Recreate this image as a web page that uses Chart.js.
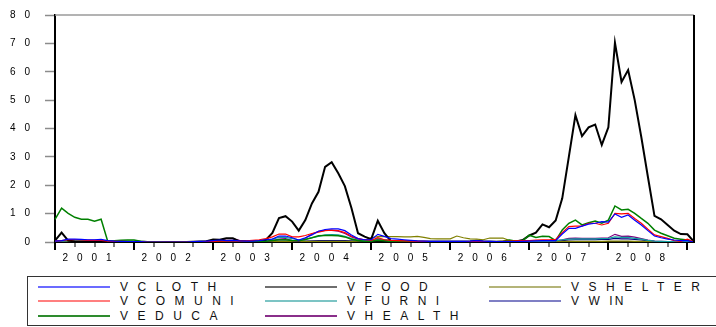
<!DOCTYPE html>
<html>
<head>
<meta charset="utf-8">
<script src="https://cdn.jsdelivr.net/npm/chart.js@4.4.1/dist/chart.umd.min.js"></script>
<style>
  html, body { margin: 0; padding: 0; background: #fff; }
  body { width: 716px; height: 327px; position: relative; overflow: hidden; font-family: "Liberation Sans", Arial, sans-serif; }
  #chart { position: absolute; left: 0; top: 0; }
  #legend { position: absolute; left: 27px; top: 276px; width: 720px; height: 48px; border: 1px solid #333; }
  .key { position: absolute; height: 2px; width: 72px; }
  .name { position: absolute; font-size: 12px; letter-spacing: 9.5px; line-height: 14px; color: #111; white-space: nowrap; }
</style>
</head>
<body>
<canvas id="chart" width="716" height="270"></canvas>
<div id="legend"></div>
<script>
// monthly, 2001M01 .. 2009M02
const years = ["2001", "2002", "2003", "2004", "2005", "2006", "2007", "2008", "2009"];
const yTicks = [0, 10, 20, 30, 40, 50, 60, 70, 80];

const vcloth = [
  0.3, 0.5, 1.0, 1.0, 0.9, 0.8, 0.8, 0.9, 0.5, 0.3, 0.2, 0.1,
  0.1, 0.1, 0.0, 0.0, 0.0, 0.0, 0.0, 0.0, 0.0, 0.1, 0.2, 0.3,
  0.5, 0.7, 0.5, 0.6, 0.4, 0.3, 0.3, 0.5, 0.8, 1.0, 2.1, 2.1,
  1.5, 0.7, 1.5, 2.5, 3.8, 4.4, 4.6, 4.6, 4.0, 2.5, 1.2, 0.8,
  0.8, 2.7, 2.0, 1.2, 1.0, 0.8, 0.6, 0.4, 0.3, 0.2, 0.2, 0.2,
  0.2, 0.2, 0.2, 0.3, 0.5, 0.3, 0.2, 0.1, 0.1, 0.1, 0.1, 0.2,
  0.3, 0.4, 0.5, 0.5, 0.5, 2.8, 4.8, 4.8, 5.6, 6.3, 6.6, 7.2,
  7.0, 9.9, 8.7, 9.5, 7.7, 6.0, 4.0, 2.1, 1.5, 1.0, 0.7, 0.5,
  0.5, 0.0
];
const vcomuni = [
  0.3, 0.5, 0.8, 0.8, 0.7, 0.6, 0.6, 0.6, 0.3, 0.2, 0.2, 0.1,
  0.1, 0.1, 0.0, 0.0, 0.0, 0.0, 0.0, 0.0, 0.0, 0.0, 0.1, 0.1,
  0.2, 0.3, 0.3, 0.3, 0.3, 0.4, 0.6, 0.8, 1.2, 1.8, 2.8, 2.8,
  1.8, 1.8, 2.3, 3.0, 3.5, 4.0, 4.2, 4.0, 3.3, 2.0, 1.2, 0.8,
  0.6, 1.5, 0.8, 0.6, 0.5, 0.4, 0.3, 0.2, 0.2, 0.1, 0.1, 0.1,
  0.1, 0.1, 0.1, 0.1, 0.1, 0.1, 0.1, 0.1, 0.2, 0.3, 0.4, 0.5,
  0.5, 0.7, 0.8, 0.8, 0.9, 3.3, 5.4, 5.6, 5.6, 6.6, 6.6, 6.0,
  6.6, 10.1, 9.9, 10.1, 8.3, 6.6, 4.5, 2.5, 1.9, 1.3, 0.5, 0.2,
  1.0, 0.0
];
const veduca = [
  8.0, 11.9, 10.1, 8.7, 8.0, 8.0, 7.3, 8.0, 0.3, 0.4, 0.6, 0.7,
  0.7, 0.3, 0.1, 0.1, 0.1, 0.0, 0.0, 0.0, 0.0, 0.0, 0.0, 0.0,
  0.1, 0.1, 0.1, 0.1, 0.1, 0.1, 0.2, 0.2, 0.3, 0.5, 0.8, 0.8,
  0.5, 0.4, 0.9, 1.5, 2.2, 2.3, 2.3, 2.2, 1.8, 1.0, 0.5, 0.3,
  0.3, 0.6, 0.4, 0.2, 0.1, 0.1, 0.1, 0.1, 0.1, 0.1, 0.1, 0.1,
  0.1, 0.1, 0.1, 0.1, 0.1, 0.1, 0.1, 0.1, 0.3, 0.7, 0.3, 0.5,
  2.4, 1.6, 2.0, 1.9, 0.5, 4.2, 6.6, 7.7, 6.0, 6.8, 7.4, 6.6,
  7.7, 12.7, 11.3, 11.5, 10.1, 8.3, 6.6, 4.2, 3.1, 2.2, 1.3, 1.0,
  0.7, 0.0
];
const vfood = [
  0.5, 3.3, 0.5, 0.2, 0.1, 0.1, 0.1, 0.1, 0.1, 0.1, 0.1, 0.1,
  0.1, 0.1, 0.0, 0.0, 0.0, 0.0, 0.0, 0.0, 0.0, 0.1, 0.2, 0.3,
  0.9, 0.8, 1.3, 1.3, 0.2, 0.2, 0.2, 0.3, 0.7, 3.2, 8.4, 9.1,
  7.2, 4.0, 7.7, 13.6, 17.7, 26.5, 28.1, 24.2, 19.7, 12.0, 3.1, 1.9,
  1.0, 7.5, 3.1, 0.3, 0.2, 0.1, 0.1, 0.1, 0.1, 0.1, 0.1, 0.1,
  0.1, 0.1, 0.1, 0.1, 0.1, 0.1, 0.1, 0.1, 0.1, 0.2, 0.2, 0.7,
  2.3, 3.3, 6.2, 5.2, 7.6, 15.4, 30.0, 44.7, 37.3, 40.4, 41.4, 34.2,
  40.4, 70.2, 56.4, 60.6, 50.0, 37.0, 23.0, 9.2, 8.0, 6.0, 4.0, 2.8,
  2.7, 0.1
];
const vfurni = [
  0.2, 0.3, 0.5, 0.5, 0.5, 0.5, 0.4, 0.4, 0.3, 0.3, 0.2, 0.2,
  0.1, 0.1, 0.0, 0.0, 0.0, 0.0, 0.0, 0.0, 0.0, 0.0, 0.1, 0.1,
  0.2, 0.2, 0.3, 0.3, 0.2, 0.2, 0.2, 0.4, 0.6, 1.0, 1.6, 1.6,
  1.2, 0.8, 1.0, 1.5, 2.0, 2.5, 2.6, 2.5, 2.0, 1.2, 0.7, 0.5,
  0.5, 1.2, 0.8, 0.5, 0.3, 0.2, 0.2, 0.2, 0.1, 0.1, 0.1, 0.1,
  0.1, 0.1, 0.1, 0.1, 0.1, 0.1, 0.1, 0.1, 0.1, 0.1, 0.2, 0.2,
  0.2, 0.3, 0.3, 0.3, 0.4, 0.8, 1.0, 1.1, 1.1, 1.1, 1.1, 1.2,
  1.3, 1.8, 1.6, 1.6, 1.3, 1.0, 0.6, 0.3, 0.2, 0.1, 0.1, 0.1,
  0.1, 0.0
];
const vhealth = [
  0.2, 0.4, 0.7, 0.7, 0.6, 0.6, 0.6, 0.6, 0.3, 0.2, 0.1, 0.1,
  0.1, 0.0, 0.0, 0.0, 0.0, 0.0, 0.0, 0.0, 0.0, 0.1, 0.1, 0.2,
  0.5, 0.6, 1.2, 1.2, 0.6, 0.3, 0.2, 0.2, 0.3, 0.5, 1.0, 1.2,
  0.5, 0.2, 1.3, 2.8, 3.8, 4.1, 4.1, 3.8, 3.0, 1.8, 1.0, 0.8,
  0.6, 1.0, 0.8, 0.5, 0.3, 0.2, 0.2, 0.1, 0.1, 0.1, 0.1, 0.1,
  0.1, 0.1, 0.1, 0.1, 0.1, 0.1, 0.1, 0.1, 0.1, 0.1, 0.2, 0.2,
  0.2, 0.3, 0.3, 0.3, 0.4, 0.8, 1.3, 1.4, 1.3, 1.3, 1.3, 1.4,
  1.5, 2.7, 2.0, 2.1, 1.7, 1.2, 0.7, 0.3, 0.2, 0.1, 0.1, 0.1,
  0.1, 0.0
];
const vshelter = [
  0.2, 0.3, 0.3, 0.3, 0.3, 0.3, 0.3, 0.3, 0.2, 0.2, 0.2, 0.2,
  0.1, 0.1, 0.1, 0.1, 0.1, 0.1, 0.1, 0.1, 0.1, 0.1, 0.1, 0.1,
  0.1, 0.1, 0.1, 0.1, 0.1, 0.1, 0.1, 0.1, 0.2, 0.2, 0.2, 0.2,
  0.2, 0.2, 0.2, 0.2, 0.2, 0.2, 0.2, 0.2, 0.2, 0.2, 0.3, 0.6,
  1.5, 1.9, 1.9, 1.9, 1.9, 1.8, 1.8, 2.0, 1.6, 1.2, 1.1, 1.1,
  1.1, 2.1, 1.5, 1.1, 1.0, 0.8, 1.4, 1.4, 1.4, 0.5, 0.4, 0.3,
  0.3, 0.3, 0.3, 0.2, 0.2, 0.2, 0.2, 0.2, 0.2, 0.2, 0.2, 0.2,
  0.3, 0.3, 0.3, 0.3, 0.2, 0.2, 0.2, 0.1, 0.1, 0.1, 0.1, 0.1,
  0.1, 0.0
];
const vwin = [
  0.1, 0.2, 0.3, 0.3, 0.3, 0.3, 0.3, 0.3, 0.2, 0.1, 0.1, 0.1,
  0.1, 0.1, 0.0, 0.0, 0.0, 0.0, 0.0, 0.0, 0.0, 0.0, 0.1, 0.2,
  0.3, 0.3, 0.4, 0.4, 0.3, 0.2, 0.2, 0.2, 0.2, 0.3, 0.3, 0.3,
  0.3, 0.3, 0.3, 0.4, 0.5, 0.5, 0.5, 0.5, 0.5, 0.4, 0.3, 0.3,
  0.4, 0.8, 0.5, 0.4, 0.3, 0.3, 0.3, 0.2, 0.2, 0.2, 0.2, 0.2,
  0.2, 0.2, 0.2, 0.3, 0.6, 0.3, 0.2, 0.1, 0.1, 0.1, 0.1, 0.1,
  0.1, 0.1, 0.2, 0.2, 0.2, 0.5, 0.7, 0.8, 0.8, 0.8, 0.8, 0.9,
  0.9, 1.3, 1.1, 1.1, 0.9, 0.7, 0.4, 0.2, 0.1, 0.1, 0.1, 0.1,
  0.1, 0.0
];

const names = ["VCLOTH", "VCOMUNI", "VEDUCA", "VFOOD", "VFURNI", "VHEALTH", "VSHELTER", "VWIN"];
const series = [vcloth, vcomuni, veduca, vfood, vfurni, vhealth, vshelter, vwin];

// estilos
const lineColors = ["#0000ff", "#ff0000", "#008000", "#000000", "#10a0a0", "#800080", "#808000", "#000080"];
const keyColors = ["#6b6bff", "#ff7f7f", "#2e8b2e", "#6e6e6e", "#7cc4c4", "#8a2f8a", "#b4b478", "#7f7fc4"];
const lineWidths = [1.2, 1.2, 1.5, 2, 1.2, 1.2, 1.2, 1.2];

// rótulos mensais
const months = [];
years.forEach(y => {
  for (let m = 1; m <= 12; m++) months.push(y + "M" + String(m).padStart(2, "0"));
});
months.length = vfood.length;

const axisFont = { family: "'Liberation Sans', Arial, sans-serif", size: 10 };

// moldura, marcas do eixo x e espaçamento das letras
const frame = {
  id: "frame",
  beforeLayout(chart) { chart.ctx.letterSpacing = "9px"; },
  beforeDraw(chart) { chart.ctx.letterSpacing = "9px"; },
  afterDraw(chart) {
    const { ctx, chartArea: a, scales: { x } } = chart;
    ctx.save();
    ctx.strokeStyle = "#9a9a9a";
    ctx.lineWidth = 1.5;
    ctx.beginPath();
    ctx.moveTo(a.left, a.top);
    ctx.lineTo(a.right, a.top);
    ctx.stroke();
    ctx.strokeStyle = "#000";
    ctx.lineWidth = 2;
    ctx.beginPath();
    ctx.moveTo(a.right, a.top);
    ctx.lineTo(a.right, a.bottom);
    ctx.stroke();
    for (let i = 0; i < months.length; i += 3) {
      const px = Math.round(x.getPixelForValue(i));
      const major = i % 12 === 0;
      ctx.lineWidth = major ? 2 : 1;
      ctx.beginPath();
      ctx.moveTo(px, a.bottom);
      ctx.lineTo(px, a.bottom + (major ? 8 : 5));
      ctx.stroke();
    }
    ctx.restore();
  }
};

new Chart(document.getElementById("chart"), {
  type: "line",
  data: {
    labels: months,
    datasets: series.map((d, k) => ({
      label: names[k],
      data: d,
      borderColor: lineColors[k],
      borderWidth: lineWidths[k],
      pointRadius: 0,
      tension: 0,
      fill: false
    }))
  },
  options: {
    responsive: false,
    animation: false,
    layout: { padding: { left: 0, right: 22, top: 15, bottom: 0 } },
    plugins: { legend: { display: false }, tooltip: { enabled: false } },
    scales: {
      x: {
        type: "category",
        offset: false,
        grid: { display: false, drawTicks: false },
        border: { display: true, color: "#000", width: 2 },
        ticks: {
          autoSkip: false,
          maxRotation: 0,
          padding: 10,
          labelOffset: -3,
          font: axisFont,
          color: "#000",
          callback: (v, i) => (i % 12 === 6 && i < 96 ? years[Math.floor(i / 12)] : "")
        },
        afterFit: s => { s.height = 28; }
      },
      y: {
        min: 0,
        max: 80,
        afterBuildTicks: s => { s.ticks = yTicks.map(v => ({ value: v })); },
        ticks: { padding: 6, font: axisFont, color: "#000" },
        grid: { drawOnChartArea: false, color: "#8c8c8c", tickLength: 10, tickWidth: 1.5 },
        border: { display: true, color: "#000", width: 2 },
        afterFit: s => { s.width = 55; }
      }
    }
  },
  plugins: [frame]
});

// legenda (3 colunas)
const legend = document.getElementById("legend");
const keyX = [10, 237, 461];
const textX = [92, 319, 543];
const rowY = [10, 24, 39];
names.forEach((n, k) => {
  const col = Math.floor(k / 3), row = k % 3;
  const key = document.createElement("div");
  key.className = "key";
  key.style.left = keyX[col] + "px";
  key.style.top = (rowY[row] - 1) + "px";
  key.style.background = keyColors[k];
  legend.appendChild(key);
  const t = document.createElement("div");
  t.className = "name";
  t.style.left = textX[col] + "px";
  t.style.top = (rowY[row] - 7) + "px";
  if (n === "VWIN") t.innerHTML = 'VW<span style="letter-spacing:2px">I</span>N';
  else t.textContent = n;
  legend.appendChild(t);
});
</script>
</body>
</html>
